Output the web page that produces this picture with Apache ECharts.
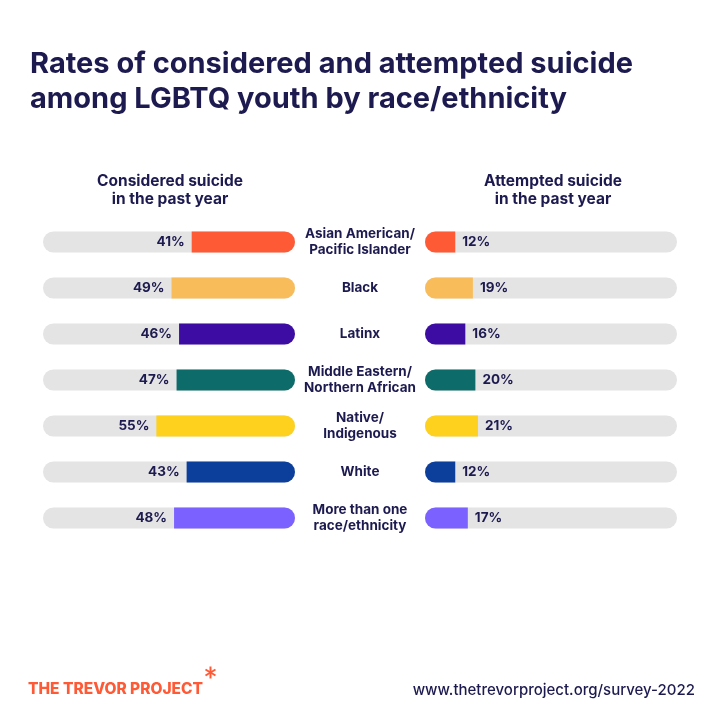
<!DOCTYPE html>
<html><head><meta charset="utf-8">
<script src="https://cdn.jsdelivr.net/npm/echarts@6/dist/echarts.min.js"></script>
<style>html,body{margin:0;padding:0;background:#fff}#c{width:720px;height:720px}</style>
</head><body><div id="c"></div>
<script>
const categories = ['Asian American/\nPacific Islander','Black','Latinx','Middle Eastern/\nNorthern African','Native/\nIndigenous','White','More than one\nrace/ethnicity'];
const considered = [41,49,46,47,55,43,48];
const attempted = [12,19,16,20,21,12,17];
const colors = ['#ff5a36','#f8bd5a','#3d0ca3','#0d6b69','#fdd11e','#0c3f9c','#7b61ff'];
const navy = '#1c1a4f';
const font = 'Inter';

const chart = echarts.init(document.getElementById('c'));
const gTop = 219, gHeight = 322;
chart.setOption({
  backgroundColor:'#ffffff',
  animation:false,
  textStyle:{fontFamily:font},
  title:[
    {text:'Rates of considered and attempted suicide\namong LGBTQ youth by race/ethnicity', left:25, top:42,
     textStyle:{fontFamily:font,fontSize:29,fontWeight:700,color:navy,lineHeight:35}},
    {text:'Considered suicide\nin the past year', left:165, top:167, textAlign:'center',
     textStyle:{fontFamily:font,fontSize:15.5,fontWeight:700,color:navy,lineHeight:18}},
    {text:'Attempted suicide\nin the past year', left:548, top:167, textAlign:'center',
     textStyle:{fontFamily:font,fontSize:15.5,fontWeight:700,color:navy,lineHeight:18}},
    {text:'THE TREVOR PROJECT', left:23, top:676,
     textStyle:{fontFamily:font,fontSize:15.5,fontWeight:800,color:'#ff5a36'}},
    {text:'www.thetrevorproject.org/survey-2022', right:20, top:678,
     textStyle:{fontFamily:font,fontSize:15,fontWeight:500,color:navy}}
  ],
  graphic:[
    {type:'group', left:203, top:664, children:[
      {type:'line', shape:{x1:5,y1:1,x2:5,y2:13}, style:{stroke:'#ff5a36',lineWidth:2}},
      {type:'line', shape:{x1:0,y1:4,x2:10,y2:10}, style:{stroke:'#ff5a36',lineWidth:2}},
      {type:'line', shape:{x1:0,y1:10,x2:10,y2:4}, style:{stroke:'#ff5a36',lineWidth:2}}
    ]}
  ],
  grid:[
    {left:43, width:252, top:gTop, height:gHeight},
    {left:425, width:252, top:gTop, height:gHeight}
  ],
  xAxis:[
    {gridIndex:0, type:'value', min:0, max:100, inverse:true, show:false},
    {gridIndex:1, type:'value', min:0, max:100, show:false}
  ],
  yAxis:[
    {gridIndex:0, type:'category', data:categories, inverse:true, show:false},
    {gridIndex:1, type:'category', data:categories, inverse:true, position:'left',
     axisLine:{show:false}, axisTick:{show:false},
     axisLabel:{margin:65, align:'center', color:navy, fontFamily:font, fontSize:13.5, fontWeight:700, lineHeight:16}}
  ],
  series:[
    {type:'bar', xAxisIndex:0, yAxisIndex:0, barWidth:21,
     showBackground:true, backgroundStyle:{color:'#e4e4e4', borderRadius:10.5},
     data: considered.map((v,i)=>({value:v, itemStyle:{color:colors[i]}})),
     itemStyle:{borderRadius:[0,10.5,10.5,0]},
     label:{show:true, position:'left', distance:7, formatter:'{c}%', color:navy, fontFamily:font, fontSize:13.5, fontWeight:700}},
    {type:'bar', xAxisIndex:1, yAxisIndex:1, barWidth:21,
     showBackground:true, backgroundStyle:{color:'#e4e4e4', borderRadius:10.5},
     data: attempted.map((v,i)=>({value:v, itemStyle:{color:colors[i]}})),
     itemStyle:{borderRadius:[10.5,0,0,10.5]},
     label:{show:true, position:'right', distance:7, formatter:'{c}%', color:navy, fontFamily:font, fontSize:13.5, fontWeight:700}}
  ]
});
</script></body></html>
